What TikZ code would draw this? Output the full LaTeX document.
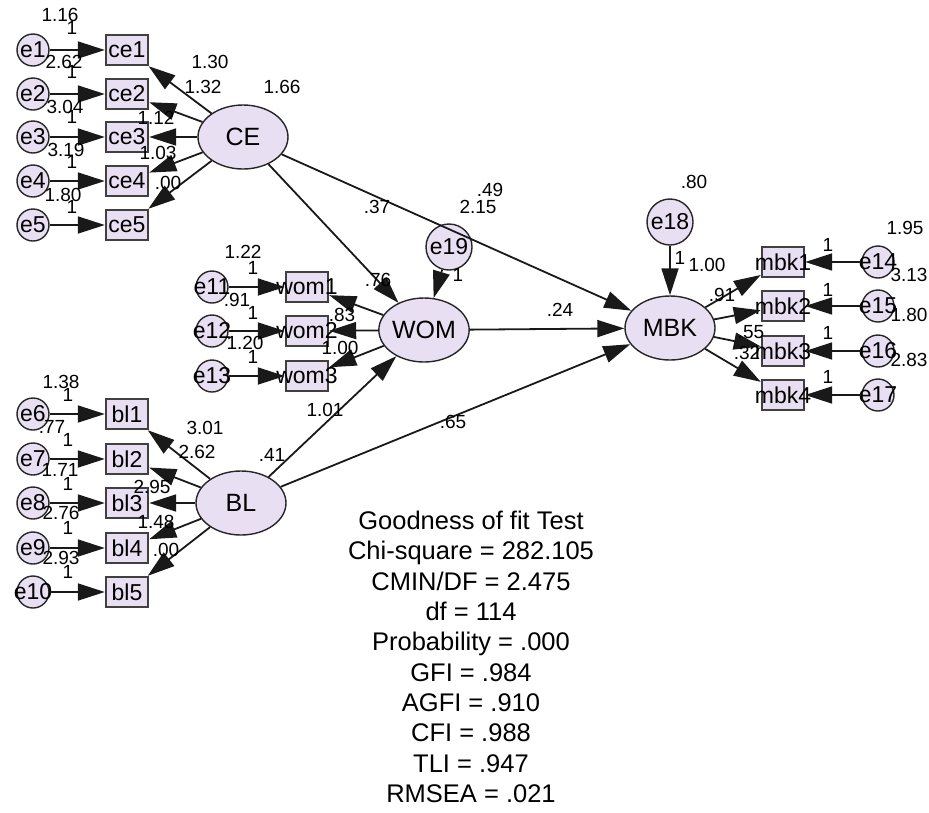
\documentclass[tikz,border=0pt]{standalone}
\usepackage{fontspec}
\setmainfont{Liberation Sans}
\usetikzlibrary{shapes.geometric,arrows.meta}
\definecolor{lav}{RGB}{233,223,242}
\newcommand{\ovl}[1]{\makebox[0pt]{#1}}

\begin{document}
\begin{tikzpicture}[x=1pt,y=-1pt,
	lat/.style={ellipse,draw=black!85,line width=1.4pt,fill=lav,minimum width=90pt,minimum height=64pt,inner sep=0pt,font=\fontsize{25}{28}\selectfont},
	obs/.style={rectangle,draw=black!75,line width=2.4pt,fill=lav,minimum width=42pt,minimum height=30pt,inner sep=0pt,font=\fontsize{23}{26}\selectfont},
	err/.style={circle,draw=black!85,line width=1.4pt,fill=lav,minimum size=32pt,inner sep=0pt,font=\fontsize{23}{26}\selectfont},
	dst/.style={err,minimum size=46pt},
	val/.style={font=\fontsize{19}{22}\selectfont,inner sep=0pt},
	reg/.style={draw=black!90,line width=1.8pt,-{Triangle[length=27pt,width=17pt]}}]
		\useasboundingbox (0,0) rectangle (929,812);
		% latent variables
		\node[lat] (CE) at (243,137) {CE};
		\node[lat] (BL) at (241,503) {BL};
		\node[lat] (WOM) at (424,330) {WOM};
		\node[lat] (MBK) at (670,328) {MBK};
		\node[dst] (e19) at (449,247) {e19};
		\node[dst] (e18) at (670,222) {e18};
		% indicators
		\foreach \i/\y in {1/50,2/94,3/137,4/181,5/225} {
			\node[err] (e\i) at (33,\y) {\ovl{e\i}};
			\node[obs] (ce\i) at (127,\y) {ce\i};
			\draw[reg] (e\i) -- (ce\i);
			\draw[reg] (CE) -- (ce\i);
		}
		\foreach \i/\j/\y in {1/6/414,2/7/459,3/8/503,4/9/548,5/10/592} {
			\node[err] (e\j) at (33,\y) {\ovl{e\j}};
			\node[obs] (bl\i) at (127,\y) {bl\i};
			\draw[reg] (e\j) -- (bl\i);
			\draw[reg] (BL) -- (bl\i);
		}
		\foreach \i/\j/\y in {1/11/287,2/12/331,3/13/376} {
			\node[err] (e\j) at (212,\y) {\ovl{e\j}};
			\node[obs] (wom\i) at (307,\y) {\ovl{wom\i}};
			\draw[reg] (e\j) -- (wom\i);
			\draw[reg] (WOM) -- (wom\i);
		}
		\foreach \i/\j/\y in {1/14/262,2/15/306,3/16/351,4/17/395} {
			\node[err] (e\j) at (878,\y) {\ovl{e\j}};
			\node[obs] (mbk\i) at (783,\y) {\ovl{mbk\i}};
			\draw[reg] (e\j) -- (mbk\i);
			\draw[reg] (MBK) -- (mbk\i);
		}
		% structural paths
		\draw[reg] (e19) -- (WOM);
		\draw[reg] (e18) -- (MBK);
		\draw[reg] (CE) -- (WOM);
		\draw[reg] (CE) -- (MBK);
		\draw[reg] (WOM) -- (MBK);
		\draw[reg] (BL) -- (WOM);
		\draw[reg] (BL) -- (MBK);
		% estimates
		\foreach \t/\x/\y [count=\k] in {1.16/60/15,2.62/64/62,3.04/65/107,3.19/66/150,1.80/63/195,
			1.30/210/62,1.32/203/87,1.12/156/118,1.03/158/153,.00/168/183,1.66/282/87} {
			\node[val] (c\k) at (\x,\y) {\t};  % CE block
		}
		\foreach \t/\x/\y [count=\k] in {1.38/61/382,.77/52/427,1.71/60/470,2.76/61/513,2.93/61/558,
			3.01/205/428,2.62/197/452,2.95/152/487,1.48/156/522,.00/166/550,.41/272/455} {
			\node[val] (b\k) at (\x,\y) {\t};  % BL block
		}
		\foreach \t/\x/\y [count=\k] in {1.22/243/252,.91/237/300,1.20/245/343,
			.76/378/280,.83/342/315,1.00/340/348,1/458/275} {
			\node[val] (w\k) at (\x,\y) {\t};  % WOM block
		}
		\foreach \t/\x/\y [count=\k] in {.80/694/182,1/680/258,1.00/707/265,.91/722/295,.55/751/332,.32/747/353,
			1.95/905/228,3.13/909/275,1.80/909/315,2.83/909/360} {
			\node[val] (m\k) at (\x,\y) {\t};  % MBK block
		}
		\foreach \t/\x/\y [count=\k] in {.37/377/207,.49/490/190,2.15/478/207,.24/560/310,1.01/325/410,.65/453/422} {
			\node[val] (s\k) at (\x,\y) {\t};  % paths
		}
		\foreach \x/\y [count=\k] in {72/28,72/72,72/117,72/162,72/207,68/395,68/440,68/484,68/528,68/572,
			253/268,253/313,253/357,828/245,828/290,828/333,828/377} {
			\node[val] (f\k) at (\x,\y) {1};  % fixed loadings
		}
		% fit indices
		\node[anchor=north,align=center,inner sep=0pt,font=\fontsize{25.5}{30.3}\selectfont] (fit) at (471,511)
			{Goodness of fit Test\\ Chi-square = 282.105\\ CMIN/DF = 2.475\\ df = 114\\ Probability = .000\\
			GFI = .984\\ AGFI = .910\\ CFI = .988\\ TLI = .947\\ RMSEA = .021};
	\end{tikzpicture}
\end{document}
